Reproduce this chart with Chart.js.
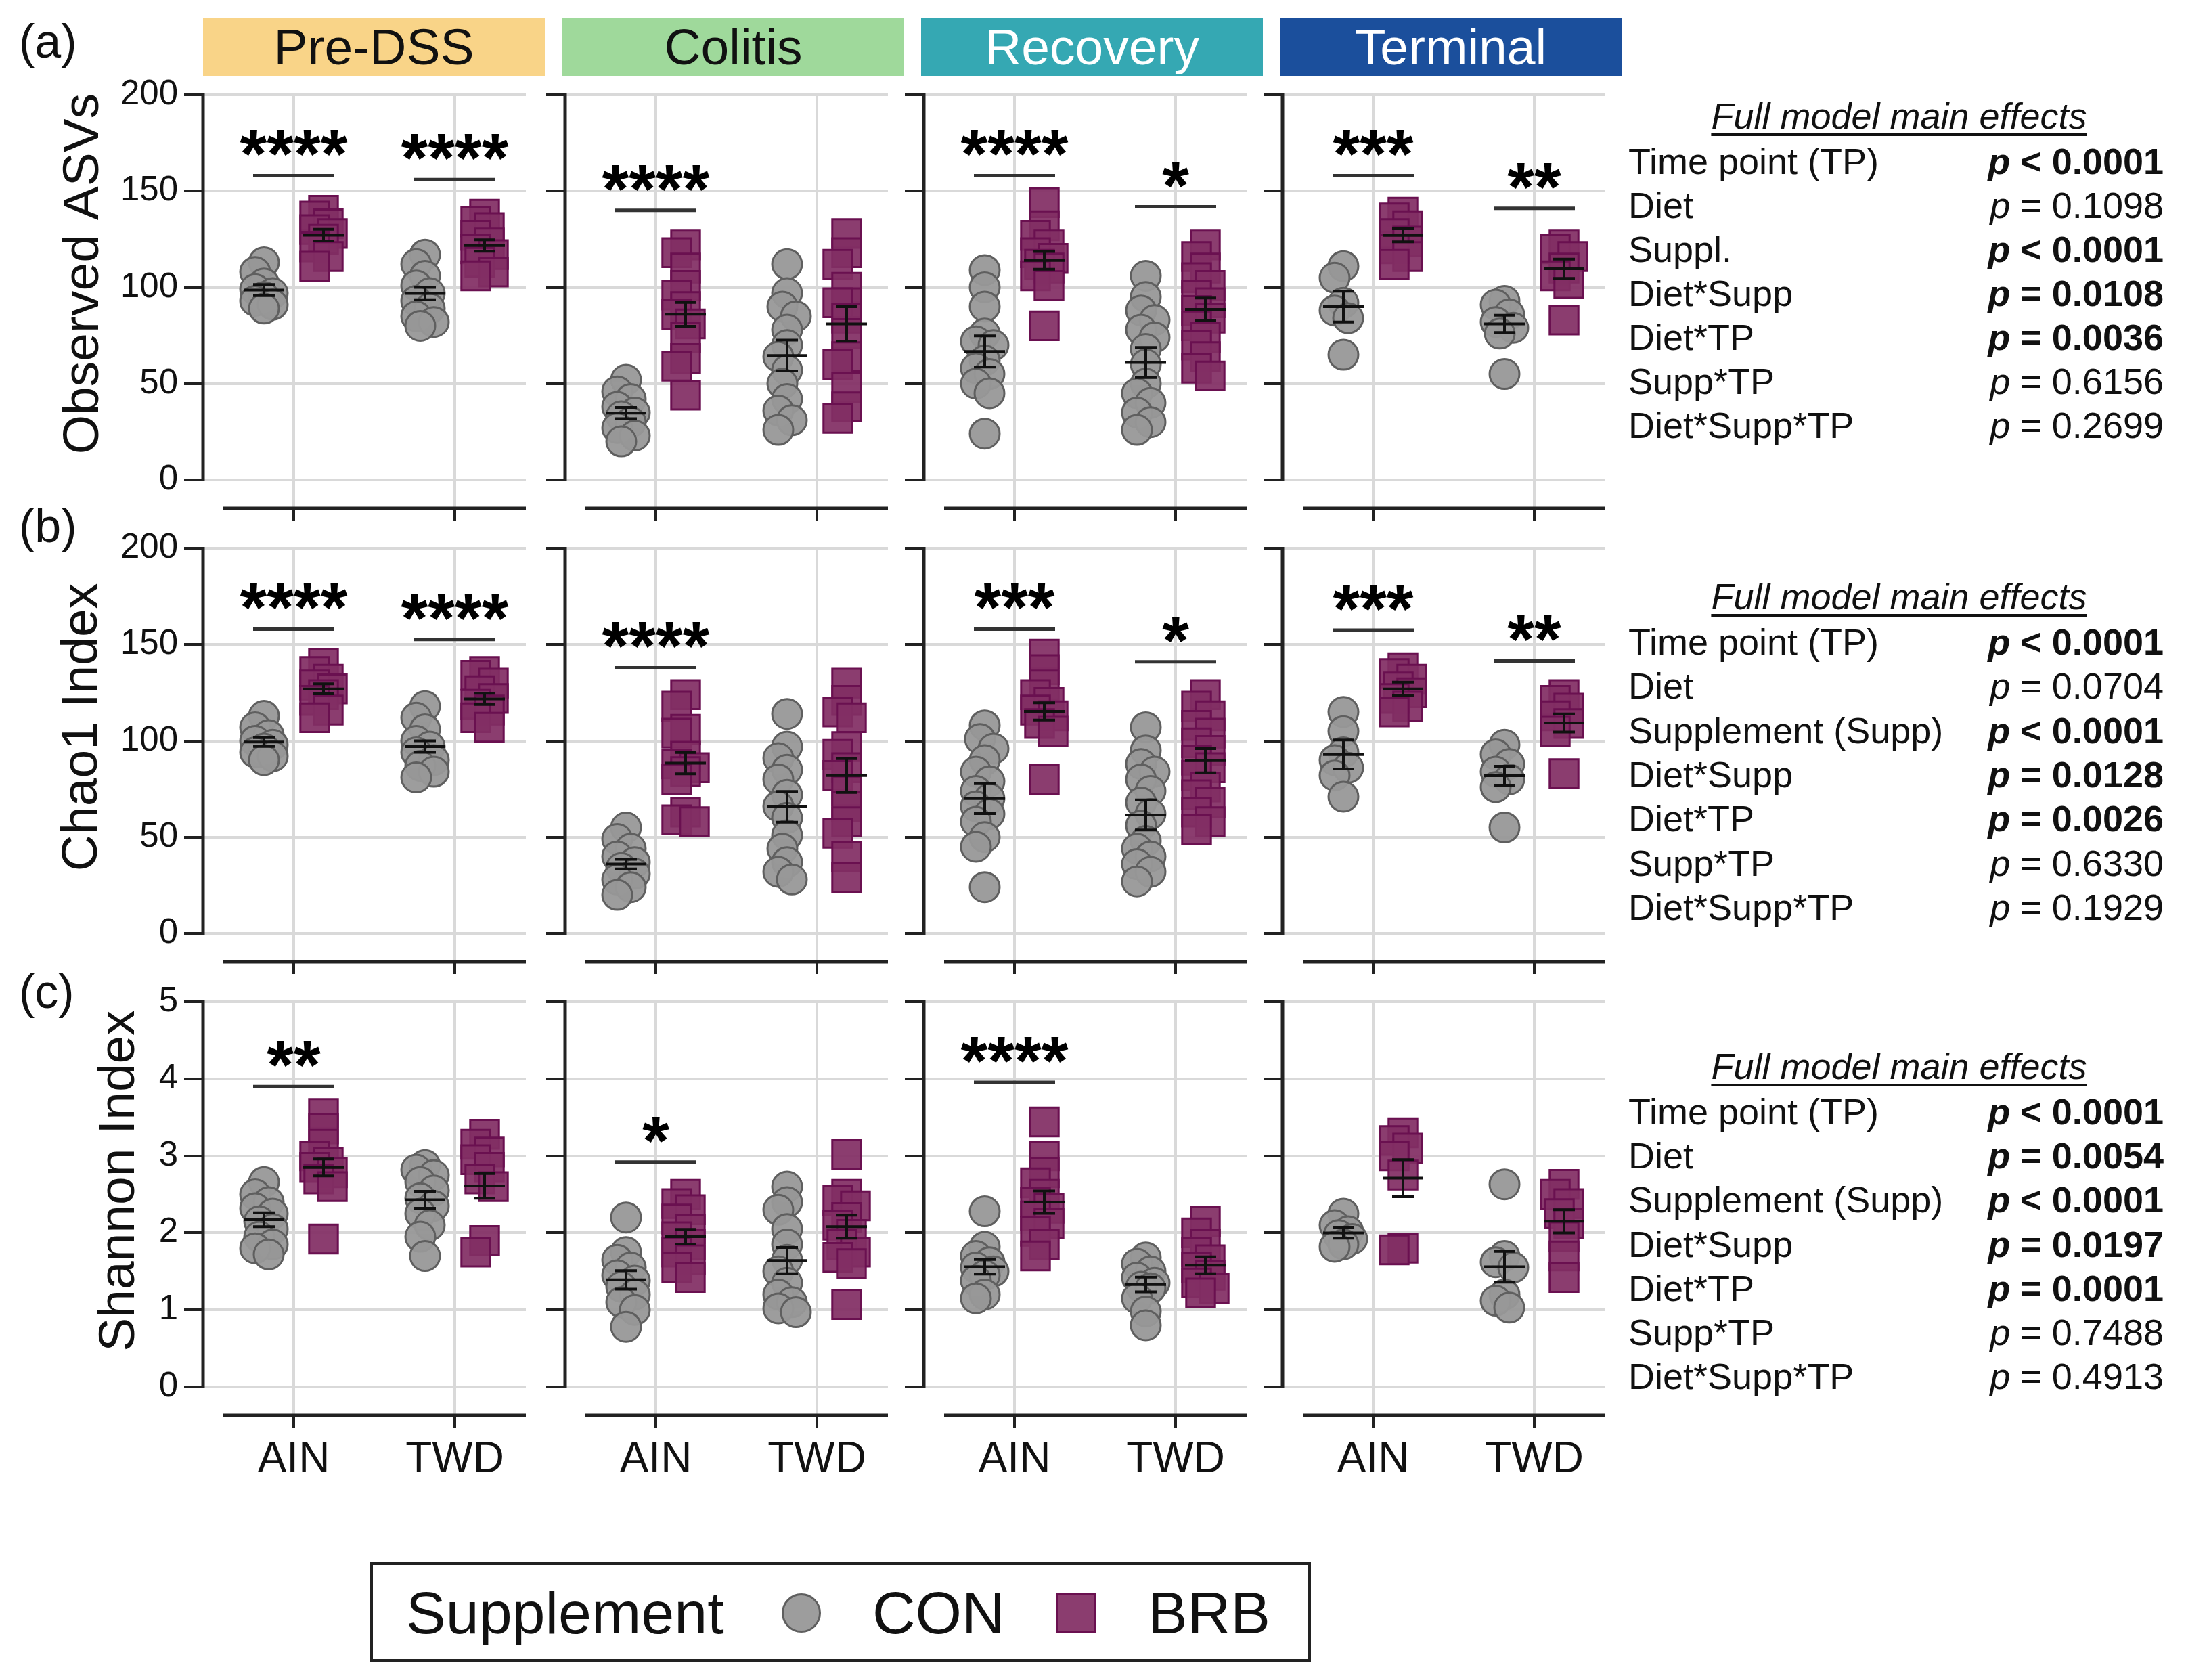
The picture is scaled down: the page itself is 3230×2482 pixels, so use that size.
<!DOCTYPE html>
<html>
<head>
<meta charset="utf-8">
<script src="https://cdn.jsdelivr.net/npm/chart.js@4.4.1/dist/chart.umd.min.js"></script>
<style>
html, body { margin: 0; padding: 0; background: #fff; }
#fig { position: relative; width: 3230px; height: 2482px; overflow: hidden;
  font-family: "Liberation Sans", Arial, Helvetica, sans-serif; color: #111; background: #fff; }
.t { position: absolute; white-space: nowrap; }
canvas { position: absolute; }
.hdr { position: absolute; display: flex; align-items: center; justify-content: center; font-size: 75px; }
</style>
</head>
<body>
<div id="fig"></div>
<script>
// ---------------- DATA ----------------
const categories = ['AIN', 'TWD'];
const supplements = ['CON', 'BRB'];
const timePoints = ['Pre-DSS', 'Colitis', 'Recovery', 'Terminal'];
const metricTitles = ['Observed ASVs', 'Chao1 Index', 'Shannon Index'];
const panelLetters = ['(a)', '(b)', '(c)'];
const asvTicks = [0, 50, 100, 150, 200];
const chaoTicks = [0, 50, 100, 150, 200];
const shannonTicks = [0, 1, 2, 3, 4, 5];

// Observed ASVs
const asv_PreDSS_AIN_CON = [113, 108, 102, 99, 97, 95, 93, 91, 89];
const asv_PreDSS_AIN_BRB = [140, 137, 133, 130, 128, 125, 121, 116, 111];
const asv_PreDSS_TWD_CON = [117, 112, 106, 101, 97, 93, 89, 85, 82, 80];
const asv_PreDSS_TWD_BRB = [138, 134, 131, 127, 123, 120, 117, 113, 108, 106];
const asv_PreDSS_mean = [98.6, 127.1, 96.8, 121.7];
const asv_PreDSS_sem = [2.9, 3.0, 3.2, 3.0];
const asv_PreDSS_sigLabels = ['****', '****'];
const asv_PreDSS_sigY = [158, 156];

const asv_Colitis_AIN_CON = [52, 46, 42, 38, 35, 33, 30, 27, 23, 20];
const asv_Colitis_AIN_BRB = [122, 118, 110, 101, 96, 90, 86, 81, 74, 63, 59, 44];
const asv_Colitis_TWD_CON = [112, 97, 90, 85, 78, 70, 64, 57, 50, 42, 36, 31, 26];
const asv_Colitis_TWD_BRB = [128, 118, 112, 100, 92, 92, 84, 76, 64, 60, 48, 38, 32];
const asv_Colitis_mean = [34.7, 86, 64.6, 81];
const asv_Colitis_sem = [2.9, 6.2, 8.0, 9.0];
const asv_Colitis_sigLabels = ['****', null];
const asv_Colitis_sigY = [140, null];

const asv_Recovery_AIN_CON = [109, 100, 90, 76, 72, 70, 62, 58, 55, 50, 45, 24];
const asv_Recovery_AIN_BRB = [144, 132, 127, 122, 118, 115, 112, 110, 106, 101, 80];
const asv_Recovery_TWD_CON = [106, 95, 88, 83, 78, 74, 68, 60, 50, 45, 40, 35, 30, 26];
const asv_Recovery_TWD_BRB = [122, 116, 110, 105, 101, 96, 92, 88, 84, 80, 74, 70, 64, 58, 54];
const asv_Recovery_mean = [66.7, 114, 61, 88.6];
const asv_Recovery_sem = [8.1, 4.6, 7.8, 5.9];
const asv_Recovery_sigLabels = ['****', '*'];
const asv_Recovery_sigY = [158, 141.8];

const asv_Terminal_AIN_CON = [111, 105, 92, 88, 84, 65];
const asv_Terminal_AIN_BRB = [139, 136, 132, 128, 124, 120, 116, 112];
const asv_Terminal_TWD_CON = [93, 91, 86, 82, 79, 76, 55];
const asv_Terminal_TWD_BRB = [122, 120, 116, 110, 106, 102, 83];
const asv_Terminal_mean = [90, 127, 81, 109.7];
const asv_Terminal_sem = [8, 3.4, 4.5, 5];
const asv_Terminal_sigLabels = ['***', '**'];
const asv_Terminal_sigY = [158, 141];

// Chao1 index
const chao_PreDSS_AIN_CON = [113, 107, 103, 100, 98, 96, 94, 92, 90];
const chao_PreDSS_AIN_BRB = [140, 136, 132, 129, 127, 124, 121, 116, 112];
const chao_PreDSS_TWD_CON = [118, 112, 106, 100, 97, 94, 90, 87, 84, 81];
const chao_PreDSS_TWD_BRB = [136, 134, 130, 126, 122, 119, 116, 112, 107];
const chao_PreDSS_mean = [99.4, 127, 97, 121.8];
const chao_PreDSS_sem = [2.3, 2.6, 3.0, 2.9];
const chao_PreDSS_sigLabels = ['****', '****'];
const chao_PreDSS_sigY = [158, 152.6];

const chao_Colitis_AIN_CON = [55, 49, 44, 40, 37, 34, 31, 28, 24, 20];
const chao_Colitis_AIN_BRB = [124, 118, 106, 104, 92, 88, 86, 84, 80, 63, 59, 58];
const chao_Colitis_TWD_CON = [114, 97, 91, 85, 80, 72, 66, 60, 51, 44, 37, 32, 28];
const chao_Colitis_TWD_BRB = [130, 121, 115, 112, 97, 93, 86, 82, 74, 66, 58, 52, 40, 29];
const chao_Colitis_mean = [36, 88.4, 65.7, 82];
const chao_Colitis_sem = [2.5, 5.5, 8, 8.8];
const chao_Colitis_sigLabels = ['****', null];
const chao_Colitis_sigY = [138, null];

const chao_Recovery_AIN_CON = [108, 101, 96, 90, 84, 79, 74, 70, 66, 62, 58, 50, 45, 24];
const chao_Recovery_AIN_BRB = [145, 137, 129, 124, 120, 116, 113, 109, 105, 80];
const chao_Recovery_TWD_CON = [107, 95, 88, 84, 80, 74, 68, 62, 56, 48, 44, 40, 36, 32, 27];
const chao_Recovery_TWD_BRB = [124, 118, 113, 108, 104, 99, 95, 90, 86, 82, 76, 72, 68, 63, 58, 54];
const chao_Recovery_mean = [70, 115.3, 61.5, 89.7];
const chao_Recovery_sem = [7.8, 4.5, 7.8, 6.3];
const chao_Recovery_sigLabels = ['***', '*'];
const chao_Recovery_sigY = [158, 141];

const chao_Terminal_AIN_CON = [115, 105, 94, 90, 86, 82, 71];
const chao_Terminal_AIN_BRB = [138, 135, 132, 128, 125, 122, 118, 115];
const chao_Terminal_TWD_CON = [98, 93, 88, 84, 80, 76, 55];
const chao_Terminal_TWD_BRB = [124, 121, 117, 113, 109, 105, 83];
const chao_Terminal_mean = [92.9, 127, 81.9, 109.3];
const chao_Terminal_sem = [7.5, 3.5, 4.9, 4.7];
const chao_Terminal_sigLabels = ['***', '**'];
const chao_Terminal_sigY = [157.5, 141.5];

// Shannon index
const shan_PreDSS_AIN_CON = [2.66, 2.5, 2.4, 2.32, 2.25, 2.15, 2.05, 1.95, 1.85, 1.8, 1.72];
const shan_PreDSS_AIN_BRB = [3.55, 3.35, 3.15, 3.0, 2.92, 2.85, 2.78, 2.7, 2.6, 1.92];
const shan_PreDSS_TWD_CON = [2.88, 2.82, 2.75, 2.66, 2.55, 2.45, 2.35, 2.25, 2.1, 1.95, 1.7];
const shan_PreDSS_TWD_BRB = [3.28, 3.15, 3.05, 2.95, 2.85, 2.7, 2.6, 1.9, 1.75];
const shan_PreDSS_mean = [2.17, 2.85, 2.43, 2.61];
const shan_PreDSS_sem = [0.09, 0.11, 0.11, 0.16];
const shan_PreDSS_sigLabels = ['**', null];
const shan_PreDSS_sigY = [3.9, null];

const shan_Colitis_AIN_CON = [2.2, 1.75, 1.65, 1.55, 1.45, 1.38, 1.3, 1.2, 1.1, 1.0, 0.78];
const shan_Colitis_AIN_BRB = [2.5, 2.38, 2.3, 2.18, 2.05, 1.95, 1.85, 1.75, 1.65, 1.55, 1.42];
const shan_Colitis_TWD_CON = [2.6, 2.4, 2.3, 2.05, 1.85, 1.65, 1.5, 1.35, 1.2, 1.1, 1.02, 0.97];
const shan_Colitis_TWD_BRB = [3.02, 2.5, 2.42, 2.35, 2.2, 2.1, 1.98, 1.85, 1.75, 1.68, 1.6, 1.07];
const shan_Colitis_mean = [1.39, 1.95, 1.64, 2.08];
const shan_Colitis_sem = [0.12, 0.095, 0.17, 0.15];
const shan_Colitis_sigLabels = ['*', null];
const shan_Colitis_sigY = [2.92, null];

const shan_Recovery_AIN_CON = [2.28, 1.82, 1.7, 1.62, 1.55, 1.5, 1.45, 1.38, 1.2, 1.15];
const shan_Recovery_AIN_BRB = [3.44, 3.0, 2.78, 2.65, 2.5, 2.4, 2.32, 2.22, 2.12, 2.02, 1.85, 1.7];
const shan_Recovery_TWD_CON = [1.68, 1.6, 1.5, 1.42, 1.35, 1.3, 1.28, 1.15, 0.98, 0.8];
const shan_Recovery_TWD_BRB = [2.15, 2.0, 1.85, 1.75, 1.65, 1.55, 1.45, 1.35, 1.28, 1.22];
const shan_Recovery_mean = [1.56, 2.4, 1.33, 1.58];
const shan_Recovery_sem = [0.095, 0.145, 0.095, 0.11];
const shan_Recovery_sigLabels = ['****', null];
const shan_Recovery_sigY = [3.955, null];

const shan_Terminal_AIN_CON = [2.25, 2.1, 2.02, 1.97, 1.92, 1.85, 1.82];
const shan_Terminal_AIN_BRB = [3.3, 3.2, 3.1, 3.0, 2.75, 1.8, 1.78];
const shan_Terminal_TWD_CON = [2.63, 1.7, 1.62, 1.55, 1.2, 1.12, 1.03];
const shan_Terminal_TWD_BRB = [2.63, 2.5, 2.38, 2.25, 2.12, 1.95, 1.7, 1.42];
const shan_Terminal_mean = [2.0, 2.71, 1.56, 2.15];
const shan_Terminal_sem = [0.07, 0.24, 0.2, 0.15];
const shan_Terminal_sigLabels = [null, null];
const shan_Terminal_sigY = [null, null];

// Full model main effects tables
const effectTerms_a = ['Time point (TP)', 'Diet', 'Suppl.', 'Diet*Supp', 'Diet*TP', 'Supp*TP', 'Diet*Supp*TP'];
const effectP_a = ['< 0.0001', '= 0.1098', '< 0.0001', '= 0.0108', '= 0.0036', '= 0.6156', '= 0.2699'];
const effectBold_a = [true, false, true, true, true, false, false];
const effectTerms_b = ['Time point (TP)', 'Diet', 'Supplement (Supp)', 'Diet*Supp', 'Diet*TP', 'Supp*TP', 'Diet*Supp*TP'];
const effectP_b = ['< 0.0001', '= 0.0704', '< 0.0001', '= 0.0128', '= 0.0026', '= 0.6330', '= 0.1929'];
const effectBold_b = [true, false, true, true, true, false, false];
const effectTerms_c = ['Time point (TP)', 'Diet', 'Supplement (Supp)', 'Diet*Supp', 'Diet*TP', 'Supp*TP', 'Diet*Supp*TP'];
const effectP_c = ['< 0.0001', '= 0.0054', '< 0.0001', '= 0.0197', '= 0.0001', '= 0.7488', '= 0.4913'];
const effectBold_c = [true, true, true, true, true, false, false];

// ---------------- ASSEMBLY ----------------
const rowsGroups = [
  [[asv_PreDSS_AIN_CON, asv_PreDSS_AIN_BRB, asv_PreDSS_TWD_CON, asv_PreDSS_TWD_BRB],
   [asv_Colitis_AIN_CON, asv_Colitis_AIN_BRB, asv_Colitis_TWD_CON, asv_Colitis_TWD_BRB],
   [asv_Recovery_AIN_CON, asv_Recovery_AIN_BRB, asv_Recovery_TWD_CON, asv_Recovery_TWD_BRB],
   [asv_Terminal_AIN_CON, asv_Terminal_AIN_BRB, asv_Terminal_TWD_CON, asv_Terminal_TWD_BRB]],
  [[chao_PreDSS_AIN_CON, chao_PreDSS_AIN_BRB, chao_PreDSS_TWD_CON, chao_PreDSS_TWD_BRB],
   [chao_Colitis_AIN_CON, chao_Colitis_AIN_BRB, chao_Colitis_TWD_CON, chao_Colitis_TWD_BRB],
   [chao_Recovery_AIN_CON, chao_Recovery_AIN_BRB, chao_Recovery_TWD_CON, chao_Recovery_TWD_BRB],
   [chao_Terminal_AIN_CON, chao_Terminal_AIN_BRB, chao_Terminal_TWD_CON, chao_Terminal_TWD_BRB]],
  [[shan_PreDSS_AIN_CON, shan_PreDSS_AIN_BRB, shan_PreDSS_TWD_CON, shan_PreDSS_TWD_BRB],
   [shan_Colitis_AIN_CON, shan_Colitis_AIN_BRB, shan_Colitis_TWD_CON, shan_Colitis_TWD_BRB],
   [shan_Recovery_AIN_CON, shan_Recovery_AIN_BRB, shan_Recovery_TWD_CON, shan_Recovery_TWD_BRB],
   [shan_Terminal_AIN_CON, shan_Terminal_AIN_BRB, shan_Terminal_TWD_CON, shan_Terminal_TWD_BRB]]
];
const rowsMeans = [
  [asv_PreDSS_mean, asv_Colitis_mean, asv_Recovery_mean, asv_Terminal_mean],
  [chao_PreDSS_mean, chao_Colitis_mean, chao_Recovery_mean, chao_Terminal_mean],
  [shan_PreDSS_mean, shan_Colitis_mean, shan_Recovery_mean, shan_Terminal_mean]];
const rowsSems = [
  [asv_PreDSS_sem, asv_Colitis_sem, asv_Recovery_sem, asv_Terminal_sem],
  [chao_PreDSS_sem, chao_Colitis_sem, chao_Recovery_sem, chao_Terminal_sem],
  [shan_PreDSS_sem, shan_Colitis_sem, shan_Recovery_sem, shan_Terminal_sem]];
const rowsSigLabels = [
  [asv_PreDSS_sigLabels, asv_Colitis_sigLabels, asv_Recovery_sigLabels, asv_Terminal_sigLabels],
  [chao_PreDSS_sigLabels, chao_Colitis_sigLabels, chao_Recovery_sigLabels, chao_Terminal_sigLabels],
  [shan_PreDSS_sigLabels, shan_Colitis_sigLabels, shan_Recovery_sigLabels, shan_Terminal_sigLabels]];
const rowsSigY = [
  [asv_PreDSS_sigY, asv_Colitis_sigY, asv_Recovery_sigY, asv_Terminal_sigY],
  [chao_PreDSS_sigY, chao_Colitis_sigY, chao_Recovery_sigY, chao_Terminal_sigY],
  [shan_PreDSS_sigY, shan_Colitis_sigY, shan_Recovery_sigY, shan_Terminal_sigY]];
const rowsTicks = [asvTicks, chaoTicks, shannonTicks];

// ---------------- LAYOUT / STYLE ----------------
const FONT = '"Liberation Sans", Arial, Helvetica, sans-serif';
Chart.defaults.font.family = FONT;
const AXIS_X = [300, 835, 1365, 1895];
const PLOT_TOP = [140, 810, 1480];
const PLOT_H = 569, BELOW = 42, PLOT_W = 477;
const AIN_PX = 134, TWD_PX = 372;
const PX_PER_X = TWD_PX - AIN_PX;
const X_MIN = 1 - AIN_PX / PX_PER_X, X_MAX = 2 + (PLOT_W - TWD_PX) / PX_PER_X;
const GROUP_SHIFT = 44 / PX_PER_X;
const GROUP_X = [1 - GROUP_SHIFT, 1 + GROUP_SHIFT, 2 - GROUP_SHIFT, 2 + GROUP_SHIFT];
const Y_AXIS_W0 = 240;
const Y_TITLE_CX = [124, 122, 177];
const PAD_TOP = 56, PAD_RIGHT = 12;
const X_AXIS_H = [56, 56, 110];
const HEADER_COLORS = ['#f9d488', '#9fd99b', '#35a8b3', '#1b4f9c'];
const HEADER_TEXT = ['#111', '#111', '#fff', '#fff'];
const CON_FILL = 'rgba(152,152,152,0.95)', CON_EDGE = '#5f5f5f';
const BRB_FILL = 'rgba(130,46,100,0.93)', BRB_EDGE = '#6a1050';

const fig = document.getElementById('fig');
function addText(txt, css, html) {
  const d = document.createElement('div');
  d.className = 't';
  if (html) d.innerHTML = txt; else d.textContent = txt;
  Object.assign(d.style, css);
  fig.appendChild(d);
  return d;
}

// beeswarm-style horizontal spread (deterministic)
function swarmOffsets(values, pxPerUnit) {
  const idx = values.map((_, i) => i).sort((a, b) => values[b] - values[a]);
  const placed = [];
  const offs = new Array(values.length).fill(0);
  const cands = [0, -7, 7, -13, 13];
  idx.forEach(i => {
    const py = values[i] * pxPerUnit;
    let best = 0, bestD = -1;
    for (const c of cands) {
      let d = Infinity;
      placed.forEach(p => { d = Math.min(d, Math.hypot(p[0] - c, p[1] - py)); });
      if (d >= 20) { best = c; bestD = d; break; }
      if (d > bestD) { bestD = d; best = c; }
    }
    offs[i] = best;
    placed.push([best, py]);
  });
  return offs;
}

const decorPlugin = {
  id: 'panelDecor',
  afterDatasetsDraw(chart, args, p) {
    const { ctx, chartArea, scales: { x, y } } = chart;
    ctx.save();
    // mean ± SEM
    ctx.strokeStyle = '#111';
    ctx.lineWidth = 4;
    p.means.forEach((m, g) => {
      const cx = x.getPixelForValue(GROUP_X[g]);
      const ym = y.getPixelForValue(m);
      const yHi = y.getPixelForValue(m + p.sems[g]);
      const yLo = y.getPixelForValue(m - p.sems[g]);
      ctx.beginPath();
      ctx.moveTo(cx - 30, ym); ctx.lineTo(cx + 30, ym);
      ctx.moveTo(cx, yLo); ctx.lineTo(cx, yHi);
      ctx.moveTo(cx - 16, yLo); ctx.lineTo(cx + 16, yLo);
      ctx.moveTo(cx - 16, yHi); ctx.lineTo(cx + 16, yHi);
      ctx.stroke();
    });
    const y0 = y.getPixelForValue(p.ticks[0]);
    const yTop = y.getPixelForValue(p.ticks[p.ticks.length - 1]);
    // axis lines (y axis from 0 to max, offset x axis)
    ctx.strokeStyle = '#222';
    ctx.lineWidth = 5;
    ctx.beginPath();
    ctx.moveTo(chartArea.left, y0 + 2);
    ctx.lineTo(chartArea.left, yTop - 2);
    ctx.moveTo(chartArea.left + 30, chartArea.bottom);
    ctx.lineTo(chartArea.right, chartArea.bottom);
    ctx.stroke();
    // significance brackets
    p.sigLabels.forEach((lab, c) => {
      if (!lab) return;
      const cx = x.getPixelForValue(c + 1);
      const ly = y.getPixelForValue(p.sigY[c]);
      ctx.strokeStyle = '#333';
      ctx.lineWidth = 5;
      ctx.beginPath();
      ctx.moveTo(cx - 60, ly); ctx.lineTo(cx + 60, ly);
      ctx.stroke();
      ctx.fillStyle = '#000';
      ctx.font = 'bold 102px ' + FONT;
      ctx.textAlign = 'center';
      ctx.textBaseline = 'alphabetic';
      ctx.fillText(lab, cx, ly + 3);
    });
    // y axis title
    if (p.yTitle) {
      ctx.save();
      ctx.translate(p.yTitleX, (y0 + yTop) / 2 - 20);
      ctx.rotate(-Math.PI / 2);
      ctx.fillStyle = '#111';
      ctx.font = '75px ' + FONT;
      ctx.textAlign = 'center';
      ctx.textBaseline = 'middle';
      ctx.fillText(p.yTitle, 0, 0);
      ctx.restore();
    }
    ctx.restore();
  }
};

// headers and panel letters
timePoints.forEach((tp, c) => {
  const left = c === 0 ? AXIS_X[0] : AXIS_X[c] - 4;
  const d = addText(tp, { left: left + 'px', top: '26px', width: '505px', height: '86px',
    background: HEADER_COLORS[c], color: HEADER_TEXT[c] });
  d.className = 'hdr';
});
[66, 782, 1470].forEach((cy, r) => {
  addText(panelLetters[r], { left: '28px', top: (cy - 40) + 'px', fontSize: '70px', lineHeight: '70px' });
});

// panels
for (let r = 0; r < 3; r++) {
  const ticks = rowsTicks[r];
  const yMax = ticks[ticks.length - 1];
  const yMin = -yMax * BELOW / PLOT_H;
  const pxPerUnit = PLOT_H / yMax;
  const xH = X_AXIS_H[r];
  for (let c = 0; c < 4; c++) {
    const W = c === 0 ? Y_AXIS_W0 : 30;
    const cw = W + PLOT_W + PAD_RIGHT;
    const ch = PAD_TOP + PLOT_H + BELOW + xH;
    const canvasLeft = AXIS_X[c] - W;
    const cv = document.createElement('canvas');
    cv.width = cw; cv.height = ch;
    cv.style.left = canvasLeft + 'px';
    cv.style.top = (PLOT_TOP[r] - PAD_TOP) + 'px';
    cv.style.width = cw + 'px'; cv.style.height = ch + 'px';
    fig.appendChild(cv);

    const groups = rowsGroups[r][c];
    const conPts = [], brbPts = [];
    groups.forEach((vals, g) => {
      const offs = swarmOffsets(vals, pxPerUnit);
      vals.forEach((v, i) => {
        const pt = { x: GROUP_X[g] + offs[i] / PX_PER_X, y: v };
        (g % 2 === 0 ? conPts : brbPts).push(pt);
      });
    });

    new Chart(cv, {
      type: 'scatter',
      data: {
        datasets: [
          { label: supplements[0], data: conPts, pointStyle: 'circle', pointRadius: 22,
            backgroundColor: CON_FILL, borderColor: CON_EDGE, borderWidth: 3, clip: false },
          { label: supplements[1], data: brbPts, pointStyle: 'rect', pointRadius: 30,
            backgroundColor: BRB_FILL, borderColor: BRB_EDGE, borderWidth: 3, clip: false }
        ]
      },
      options: {
        responsive: false, animation: false, devicePixelRatio: 1, events: [],
        layout: { autoPadding: false, padding: { top: PAD_TOP, right: PAD_RIGHT, left: 0, bottom: 0 } },
        plugins: {
          legend: { display: false }, tooltip: { enabled: false },
          panelDecor: { means: rowsMeans[r][c], sems: rowsSems[r][c], ticks: ticks,
            sigLabels: rowsSigLabels[r][c], sigY: rowsSigY[r][c],
            yTitle: c === 0 ? metricTitles[r] : null, yTitleX: Y_TITLE_CX[r] - canvasLeft }
        },
        scales: {
          x: {
            type: 'linear', min: X_MIN, max: X_MAX,
            afterBuildTicks: s => { s.ticks = categories.map((_, i) => ({ value: i + 1 })); },
            afterFit: s => { s.height = xH; },
            grid: { color: '#d9d9d9', lineWidth: 4, tickColor: '#222', tickWidth: 4, tickLength: 18 },
            border: { display: false },
            ticks: { display: r === 2, callback: v => categories[Math.round(v) - 1],
              font: { size: 64 }, color: '#111', padding: 10, maxRotation: 0 }
          },
          y: {
            type: 'linear', min: yMin, max: yMax,
            afterBuildTicks: s => { s.ticks = ticks.map(v => ({ value: v })); },
            afterFit: s => { s.width = W; },
            grid: { color: '#d9d9d9', lineWidth: 4, tickColor: '#222', tickWidth: 4, tickLength: 28 },
            border: { display: false },
            ticks: { display: c === 0, font: { size: 51 }, color: '#111', padding: 9 },
            title: { display: false }
          }
        }
      },
      plugins: [decorPlugin]
    });
  }
}

// effect tables
function addTable(terms, pv, bold, titleBase, step) {
  addText('Full model main effects', { left: '2406px', width: '800px', textAlign: 'center',
    top: (titleBase - 46) + 'px', fontSize: '54px', lineHeight: '54px', fontStyle: 'italic',
    textDecoration: 'underline', textDecorationThickness: '4px', textUnderlineOffset: '7px' });
  terms.forEach((term, i) => {
    const base = titleBase + 67 + i * step;
    addText(term, { left: '2406px', top: (base - 46) + 'px', fontSize: '54px', lineHeight: '54px' });
    const html = '<i>p</i> ' + pv[i].replace('<', '&lt;');
    addText(html, { right: '33px', top: (base - 46) + 'px', fontSize: '54px', lineHeight: '54px',
      fontWeight: bold[i] ? 'bold' : 'normal' }, true);
  });
}
addTable(effectTerms_a, effectP_a, effectBold_a, 190, 65);
addTable(effectTerms_b, effectP_b, effectBold_b, 900, 65.3);
addTable(effectTerms_c, effectP_c, effectBold_c, 1594, 65.2);

// legend
const lg = document.createElement('div');
Object.assign(lg.style, { position: 'absolute', left: '546px', top: '2307px', width: '1391px', height: '149px',
  border: '5px solid #222', boxSizing: 'border-box' });
fig.appendChild(lg);
addText('Supplement', { left: '600px', top: (2383 - 44) + 'px', fontSize: '88px', lineHeight: '88px' });
const circ = document.createElement('div');
Object.assign(circ.style, { position: 'absolute', left: '1155px', top: '2354px', width: '58px', height: '58px',
  borderRadius: '50%', background: CON_FILL, border: '3px solid ' + CON_EDGE, boxSizing: 'border-box' });
fig.appendChild(circ);
addText(supplements[0], { left: '1289px', top: (2383 - 44) + 'px', fontSize: '88px', lineHeight: '88px' });
const sq = document.createElement('div');
Object.assign(sq.style, { position: 'absolute', left: '1560px', top: '2353px', width: '59px', height: '60px',
  background: BRB_FILL, border: '3px solid ' + BRB_EDGE, boxSizing: 'border-box' });
fig.appendChild(sq);
addText(supplements[1], { left: '1696px', top: (2383 - 44) + 'px', fontSize: '88px', lineHeight: '88px' });
</script>
</body>
</html>
